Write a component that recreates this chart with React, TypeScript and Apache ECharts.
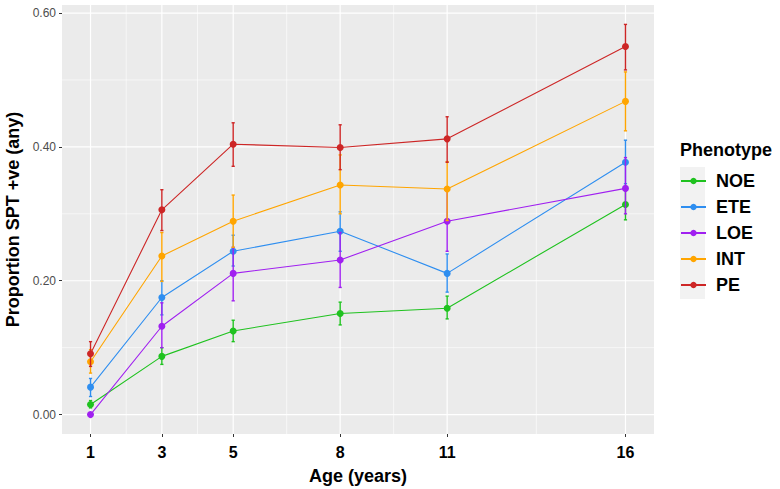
import React, { useEffect, useRef } from "react";
import * as echarts from "echarts";

const ages = [1, 3, 5, 8, 11, 16];
const phenotypes = ["NOE", "ETE", "LOE", "INT", "PE"];
const colors = ["#1FC21F", "#2E8EF0", "#A020F0", "#FFA500", "#CD2626"];

const NOE = [0.015, 0.087, 0.125, 0.151, 0.159, 0.314];
const NOE_lo = [0.010, 0.075, 0.109, 0.134, 0.143, 0.291];
const NOE_hi = [0.021, 0.100, 0.141, 0.168, 0.177, 0.340];
const ETE = [0.041, 0.175, 0.244, 0.274, 0.211, 0.377];
const ETE_lo = [0.027, 0.149, 0.222, 0.244, 0.183, 0.345];
const ETE_hi = [0.054, 0.200, 0.268, 0.303, 0.240, 0.410];
const LOE = [0.000, 0.132, 0.211, 0.231, 0.289, 0.338];
const LOE_lo = [0.000, 0.100, 0.170, 0.190, 0.244, 0.300];
const LOE_hi = [0.000, 0.167, 0.250, 0.272, 0.335, 0.384];
const INT = [0.079, 0.237, 0.289, 0.343, 0.337, 0.468];
const INT_lo = [0.062, 0.199, 0.250, 0.300, 0.290, 0.424];
const INT_hi = [0.097, 0.272, 0.328, 0.388, 0.378, 0.512];
const PE = [0.091, 0.306, 0.404, 0.399, 0.412, 0.550];
const PE_lo = [0.072, 0.275, 0.371, 0.366, 0.377, 0.515];
const PE_hi = [0.109, 0.336, 0.436, 0.433, 0.445, 0.583];

const means = [NOE, ETE, LOE, INT, PE];
const lows = [NOE_lo, ETE_lo, LOE_lo, INT_lo, PE_lo];
const highs = [NOE_hi, ETE_hi, LOE_hi, INT_hi, PE_hi];

const xBreaks = [1, 3, 5, 8, 11, 16];
const xMinor = [2, 4, 6.5, 9.5, 13.5];
const yBreaks = [0, 0.2, 0.4, 0.6];
const yMinor = [0.1, 0.3, 0.5];

const X_MIN = 0.2;
const X_MAX = 16.8;
const Y_MIN = -0.029;
const Y_MAX = 0.612;

const FONT = "Liberation Sans, Arial, sans-serif";

export default function App() {
  const ref = useRef<HTMLDivElement>(null);
  useEffect(() => {
    if (!ref.current) return;
    const chart = echarts.init(ref.current, undefined, { renderer: "svg" });

    const gridSeries = {
      type: "custom",
      name: "_grid",
      silent: true,
      z: 0,
      data: [[0]],
      encode: { x: 0, y: 0 },
      renderItem: (params: any, api: any) => {
        const children: any[] = [];
        const vline = (x: number, w: number) => {
          const a = api.coord([x, Y_MIN]);
          const b = api.coord([x, Y_MAX]);
          children.push({
            type: "line",
            shape: { x1: a[0], y1: a[1], x2: b[0], y2: b[1] },
            style: { stroke: "#FFFFFF", lineWidth: w },
          });
        };
        const hline = (y: number, w: number) => {
          const a = api.coord([X_MIN, y]);
          const b = api.coord([X_MAX, y]);
          children.push({
            type: "line",
            shape: { x1: a[0], y1: a[1], x2: b[0], y2: b[1] },
            style: { stroke: "#FFFFFF", lineWidth: w },
          });
        };
        xMinor.forEach((v) => vline(v, 0.6));
        yMinor.forEach((v) => hline(v, 0.6));
        xBreaks.forEach((v) => vline(v, 1.2));
        yBreaks.forEach((v) => hline(v, 1.2));
        return { type: "group", children };
      },
    };

    const series: any[] = [gridSeries];
    phenotypes.forEach((name, i) => {
      const color = colors[i];
      series.push({
        type: "custom",
        name: name + " error",
        z: 2 + i * 2,
        silent: true,
        data: ages.map((a, j) => [a, lows[i][j], highs[i][j]]),
        encode: { x: 0, y: [1, 2] },
        renderItem: (params: any, api: any) => {
          const x = api.value(0);
          const p1 = api.coord([x, api.value(1)]);
          const p2 = api.coord([x, api.value(2)]);
          const hw = 1.6;
          const st = { stroke: color, lineWidth: 1.4 };
          return {
            type: "group",
            children: [
              { type: "line", shape: { x1: p1[0], y1: p1[1], x2: p2[0], y2: p2[1] }, style: st },
              { type: "line", shape: { x1: p1[0] - hw, y1: p1[1], x2: p1[0] + hw, y2: p1[1] }, style: st },
              { type: "line", shape: { x1: p2[0] - hw, y1: p2[1], x2: p2[0] + hw, y2: p2[1] }, style: st },
            ],
          };
        },
      });
      series.push({
        type: "line",
        name,
        z: 3 + i * 2,
        data: ages.map((a, j) => [a, means[i][j]]),
        symbol: "circle",
        symbolSize: 7,
        showSymbol: true,
        lineStyle: { color, width: 1.1 },
        itemStyle: { color },
      });
    });

    chart.setOption({
      animation: false,
      backgroundColor: "#FFFFFF",
      grid: {
        left: 62,
        top: 5,
        width: 592,
        height: 429,
        show: true,
        backgroundColor: "#EBEBEB",
        borderWidth: 0,
        containLabel: false,
        outerBoundsMode: "none",
      },
      xAxis: {
        type: "value",
        min: X_MIN,
        max: X_MAX,
        name: "Age (years)",
        nameLocation: "middle",
        nameGap: 33,
        nameTextStyle: { fontFamily: FONT, fontSize: 18, fontWeight: "bold", color: "#000" },
        axisLine: { show: false, onZero: false },
        splitLine: { show: false },
        axisTick: { show: true, length: 3, customValues: xBreaks, lineStyle: { color: "#333333", width: 1 } },
        axisLabel: {
          customValues: xBreaks,
          margin: 10,
          fontFamily: FONT,
          fontSize: 16,
          fontWeight: "bold",
          color: "#000",
        },
      },
      yAxis: {
        type: "value",
        min: Y_MIN,
        max: Y_MAX,
        name: "Proportion SPT +ve (any)",
        nameLocation: "middle",
        nameGap: 35,
        nameTextStyle: { fontFamily: FONT, fontSize: 18, fontWeight: "bold", color: "#000" },
        axisLine: { show: false, onZero: false },
        splitLine: { show: false },
        axisTick: { show: true, length: 3, customValues: yBreaks, lineStyle: { color: "#333333", width: 1 } },
        axisLabel: {
          customValues: yBreaks,
          margin: 6,
          fontFamily: FONT,
          fontSize: 12,
          color: "#4D4D4D",
          formatter: (v: number) => v.toFixed(2),
        },
      },
      legend: {
        data: phenotypes,
        orient: "vertical",
        left: 680,
        top: 172,
        itemWidth: 25,
        itemHeight: 8,
        itemGap: 8,
        padding: 0,
        textStyle: {
          fontFamily: FONT,
          fontSize: 18,
          fontWeight: "bold",
          color: "#000",
          lineHeight: 18,
          padding: [0, 0, 0, 5],
        },
      },
      graphic: [
        {
          type: "rect",
          left: 680,
          top: 167,
          shape: { width: 25, height: 132 },
          style: { fill: "#F2F2F2" },
          z: -1,
        },
        {
          type: "text",
          left: 680,
          top: 141,
          style: {
            text: "Phenotype",
            font: "bold 18px " + FONT,
            fill: "#000",
          },
        },
      ],
      series,
    });
    return () => chart.dispose();
  }, []);
  return (
    <div
      ref={ref}
      style={{ position: "absolute", left: 0, top: 0, width: 780, height: 489 }}
    />
  );
}
